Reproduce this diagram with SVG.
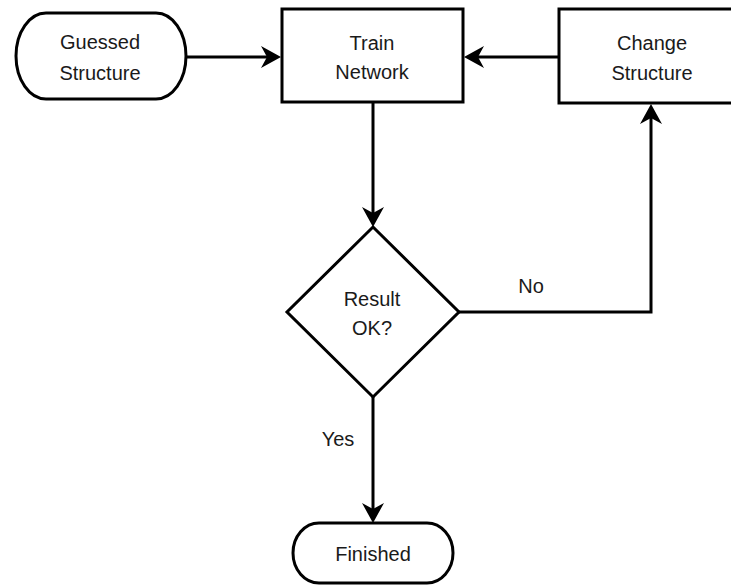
<svg xmlns="http://www.w3.org/2000/svg" width="731" height="586" viewBox="0 0 731 586">
<defs>
<marker id="arrow" markerUnits="userSpaceOnUse" markerWidth="22" markerHeight="24" refX="6" refY="11" orient="auto" viewBox="0 0 22 22">
<path d="M0,0 L20,11 L0,22 L6,11 Z" fill="#000"/>
</marker>
<style>
.shape{fill:#fff;stroke:#000;stroke-width:3}
.edge{fill:none;stroke:#000;stroke-width:3;marker-end:url(#arrow)}
text{font-family:"Liberation Sans",Arial,sans-serif;font-size:20px;fill:#1a1a1a;text-anchor:middle}
</style>
</defs>
<rect width="731" height="586" fill="#fff"/>
<g id="connectors">
<line class="edge" x1="186" y1="57" x2="267" y2="57"/>
<line class="edge" x1="559" y1="57" x2="478" y2="57"/>
<line class="edge" x1="373" y1="102" x2="373" y2="213"/>
<polyline class="edge" points="459,312 651,312 651,118"/>
<line class="edge" x1="373" y1="397" x2="373" y2="509"/>
<text x="531" y="293">No</text>
<text x="338" y="446">Yes</text>
</g>
<g id="guessed">
<rect class="shape" x="16" y="13" width="170" height="86" rx="30" ry="43"/>
<text x="100" y="49">Guessed</text>
<text x="100" y="80">Structure</text>
</g>
<g id="train">
<rect class="shape" x="282" y="9" width="181" height="93"/>
<text x="372" y="50">Train</text>
<text x="372" y="79">Network</text>
</g>
<g id="change">
<rect class="shape" x="559" y="9" width="186" height="94"/>
<text x="652" y="50">Change</text>
<text x="652" y="80">Structure</text>
</g>
<g id="result">
<polygon class="shape" points="373,227 459,312 373,397 287,312"/>
<text x="372" y="306">Result</text>
<text x="372" y="335">OK?</text>
</g>
<g id="finished">
<rect class="shape" x="293" y="523" width="160" height="60" rx="26" ry="30"/>
<text x="373" y="561">Finished</text>
</g>
</svg>
